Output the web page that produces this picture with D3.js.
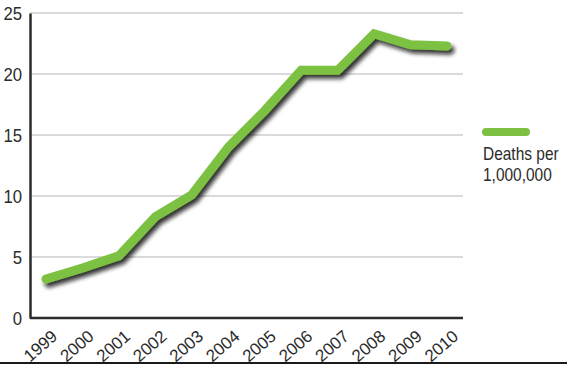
<!DOCTYPE html>
<html>
<head>
<meta charset="utf-8">
<script src="https://cdn.jsdelivr.net/npm/d3@7"></script>
<style>
  body { margin: 0; background: #fff; }
  text { font-family: 'Liberation Sans', Arial, sans-serif; fill: #2b2b2b; }
</style>
</head>
<body>
<div id="chart"></div>
<script>
let years = ['1999', '2000', '2001', '2002', '2003', '2004', '2005', '2006', '2007', '2008', '2009', '2010']
let deaths = [3.2, 4.1, 5.1, 8.3, 10.1, 14.0, 17.0, 20.3, 20.3, 23.3, 22.4, 22.3]
let yTicks = [0, 5, 10, 15, 20, 25]
let seriesName = ['Deaths per', '1,000,000']

let margin = { top: 13, left: 30, right: 104, bottom: 47 }
let width = 567 - margin.left - margin.right
let height = 365 - margin.top - margin.bottom

let svgRoot = d3
  .select('#chart')
  .append('svg')
  .attr('width', 567)
  .attr('height', 365)

let defs = svgRoot.append('defs')
let filter = defs
  .append('filter')
  .attr('id', 'shadow')
  .attr('x', '-10%')
  .attr('y', '-10%')
  .attr('width', '130%')
  .attr('height', '130%')
filter
  .append('feDropShadow')
  .attr('dx', 3)
  .attr('dy', 4)
  .attr('stdDeviation', 2.2)
  .attr('flood-color', '#111')
  .attr('flood-opacity', 0.85)

let svg = svgRoot
  .append('g')
  .attr('transform', 'translate(' + margin.left + ',' + margin.top + ')')

let xPositionScale = d3
  .scalePoint()
  .domain(years)
  .range([16, 417])

let yPositionScale = d3
  .scaleLinear()
  .domain([0, 25])
  .range([height, 0])

// gridlines
svg
  .selectAll('.grid')
  .data(yTicks.filter(d => d > 0))
  .enter()
  .append('line')
  .attr('class', 'grid')
  .attr('x1', 0)
  .attr('x2', width)
  .attr('y1', d => yPositionScale(d))
  .attr('y2', d => yPositionScale(d))
  .attr('stroke', '#b5b5b5')
  .attr('stroke-width', 1.2)

let line = d3
  .line()
  .x((d, i) => xPositionScale(years[i]))
  .y(d => yPositionScale(d))

svg
  .append('path')
  .datum(deaths)
  .attr('d', line)
  .attr('fill', 'none')
  .attr('stroke', '#7dc142')
  .attr('stroke-width', 9)
  .attr('stroke-linecap', 'round')
  .attr('stroke-linejoin', 'miter')
  .attr('filter', 'url(#shadow)')

// axes
let yAxis = d3
  .axisLeft(yPositionScale)
  .tickValues(yTicks)
  .tickSize(0)
  .tickPadding(0)

svg
  .append('g')
  .attr('class', 'axis y-axis')
  .call(yAxis)
  .call(g => g.select('.domain').attr('stroke', '#2b2b2b').attr('stroke-width', 2.5))
  .call(g =>
    g
      .selectAll('text')
      .attr('font-size', 19)
      .attr('fill', '#2b2b2b')
      .attr('x', 0)
      .attr('transform', 'translate(-8,0) scale(0.88,1)')
  )

let xAxis = d3.axisBottom(xPositionScale).tickSize(0).tickPadding(0)

svg
  .append('g')
  .attr('class', 'axis x-axis')
  .attr('transform', 'translate(0,' + height + ')')
  .call(xAxis)
  .call(g => g.select('.domain').attr('d', 'M0,0H' + width).attr('stroke', '#2b2b2b').attr('stroke-width', 2.5))
  .call(g =>
    g
      .selectAll('text')
      .attr('font-size', 17)
      .attr('fill', '#2b2b2b')
      .attr('text-anchor', 'end')
      .attr('dy', 0)
      .attr('transform', 'translate(12,20) rotate(-41)')
  )

// bottom rule
svgRoot
  .append('line')
  .attr('x1', 0)
  .attr('x2', 567)
  .attr('y1', 363)
  .attr('y2', 363)
  .attr('stroke', '#1a1a1a')
  .attr('stroke-width', 2)

// legend
let legend = svgRoot.append('g').attr('transform', 'translate(486,132)')
legend
  .append('line')
  .attr('x1', 0)
  .attr('x2', 40)
  .attr('y1', 0)
  .attr('y2', 0)
  .attr('stroke', '#7dc142')
  .attr('stroke-width', 8)
  .attr('stroke-linecap', 'round')

legend
  .selectAll('.legend-text')
  .data(seriesName)
  .enter()
  .append('text')
  .attr('class', 'legend-text')
  .attr('font-size', 18)
  .attr('transform', (d, i) => 'translate(-3,' + (28 + i * 21) + ') scale(0.86,1)')
  .text(d => d)
</script>
</body>
</html>
